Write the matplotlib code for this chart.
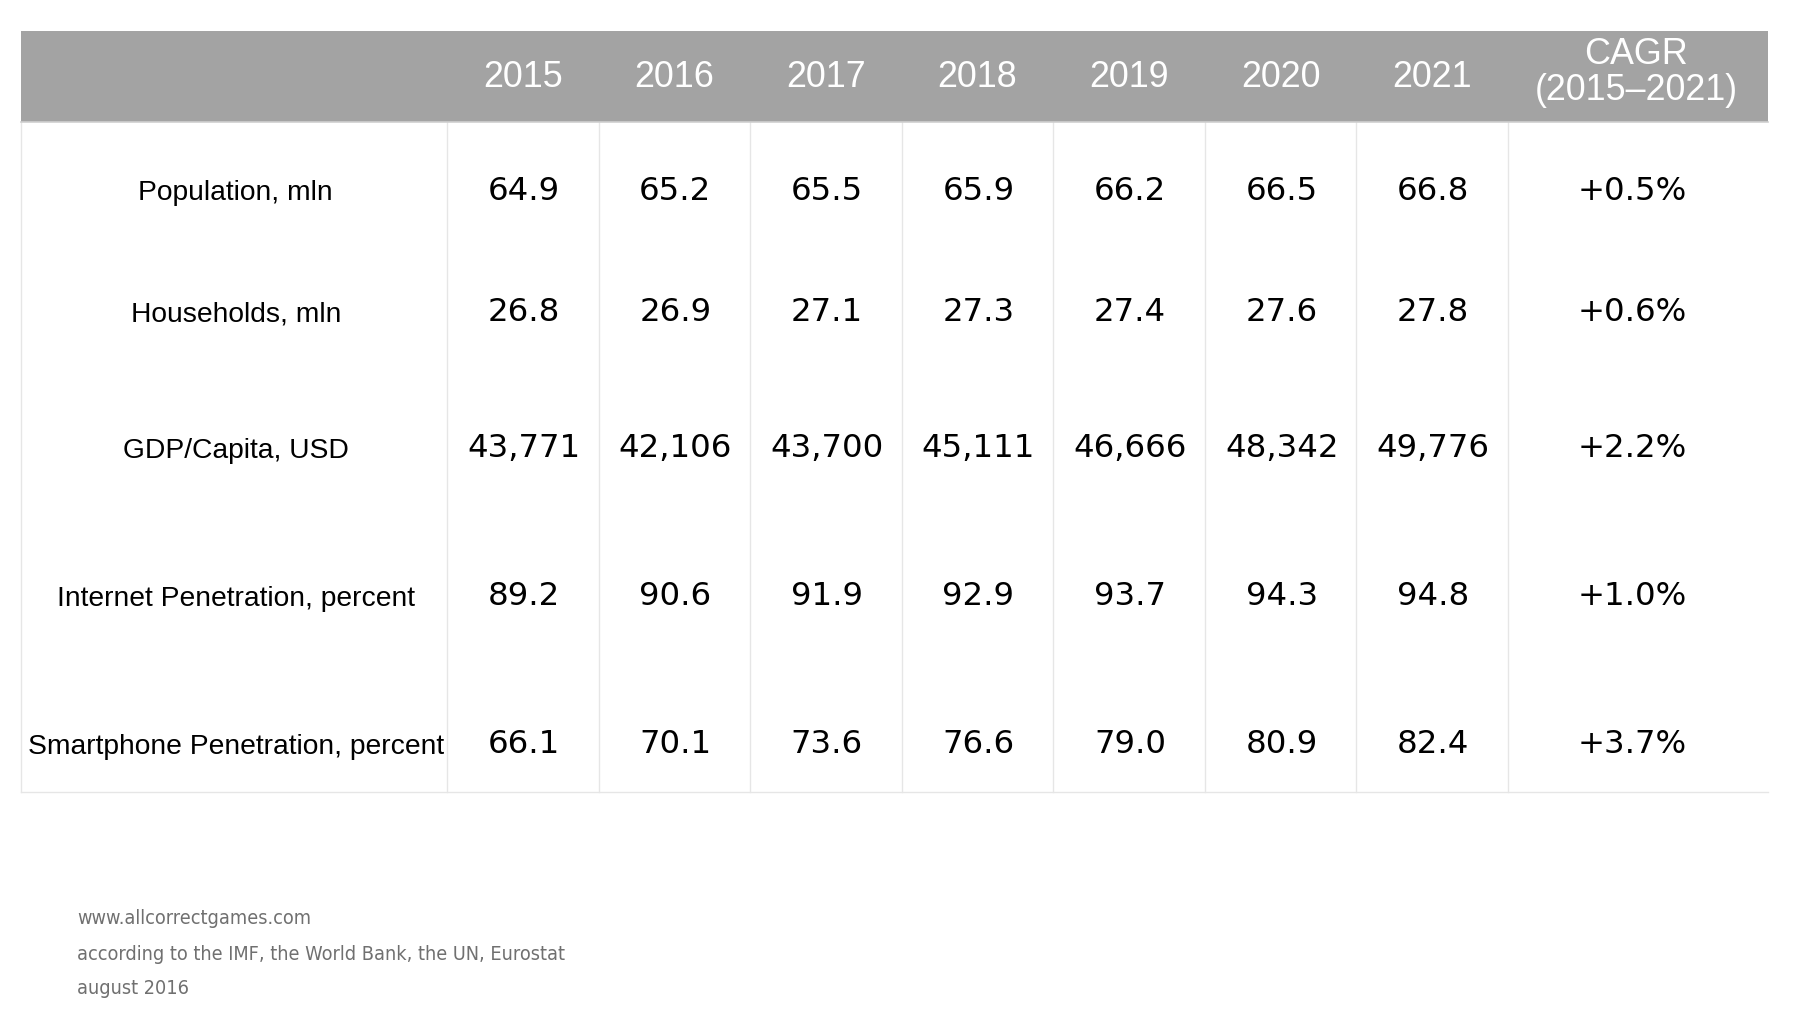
import matplotlib
matplotlib.use("Agg")
import matplotlib.pyplot as plt

# ---------------- data ----------------
years = ["2015", "2016", "2017", "2018", "2019", "2020", "2021"]
cagr_header = "CAGR\n(2015\u20132021)"
row_labels = ["Population, mln", "Households, mln", "GDP/Capita, USD",
              "Internet Penetration, percent", "Smartphone Penetration, percent"]
population = ["64.9", "65.2", "65.5", "65.9", "66.2", "66.5", "66.8"]
households = ["26.8", "26.9", "27.1", "27.3", "27.4", "27.6", "27.8"]
gdp_capita = ["43,771", "42,106", "43,700", "45,111", "46,666", "48,342", "49,776"]
internet = ["89.2", "90.6", "91.9", "92.9", "93.7", "94.3", "94.8"]
smartphone = ["66.1", "70.1", "73.6", "76.6", "79.0", "80.9", "82.4"]
cagr = ["+0.5%", "+0.6%", "+2.2%", "+1.0%", "+3.7%"]
footer_lines = ["www.allcorrectgames.com",
                "according to the IMF, the World Bank, the UN, Eurostat",
                "august 2016"]

rows = [population, households, gdp_capita, internet, smartphone]

# ---------------- layout (pixel space) ----------------
W, H = 1798, 1024
fig = plt.figure(figsize=(W / 100, H / 100), dpi=100)
ax = fig.add_axes([0, 0, 1, 1])
ax.set_xlim(0, W)
ax.set_ylim(H, 0)
ax.axis("off")

left, right = 20.5, 1768
head_top, head_bot = 31, 122
table_bot = 792
label_right = 447
year_w = (1508 - 447) / 7
col_edges = [left, label_right] + [label_right + year_w * (i + 1) for i in range(7)] + [right]
row_centers = [191.5, 312.5, 448.5, 596.5, 744.5]

header_bg = "#a3a3a3"
grid_c = "#e6e6e6"

ax.add_patch(plt.Rectangle((left, head_top), right - left, head_bot - head_top,
                           facecolor=header_bg, edgecolor="none", zorder=1))
ax.plot([left, right], [head_bot, head_bot], color="#cfcfcf", lw=1.2, zorder=2)

for x in col_edges[:-1]:
    ax.plot([x, x], [head_bot, table_bot], color=grid_c, lw=1.0, zorder=0)
ax.plot([left, right], [table_bot, table_bot], color=grid_c, lw=1.0, zorder=0)

centers = [(col_edges[i] + col_edges[i + 1]) / 2 for i in range(len(col_edges) - 1)]

hdr_font = dict(family=["Liberation Sans", "DejaVu Sans"], color="white", fontsize=25.8)
for i, y in enumerate(years):
    ax.text(centers[i + 1], 77.5, y, ha="center", va="center", **hdr_font)
ax.text(centers[-1] - 2, 72.5, cagr_header, ha="center", va="center", linespacing=1.02,
        **hdr_font)

val_font = dict(family=["DejaVu Sans"], color="black", fontsize=23.3)
lab_font = dict(family=["Liberation Sans", "DejaVu Sans"], color="black", fontsize=20.3)
for r, (lab, vals) in enumerate(zip(row_labels, rows)):
    yc = row_centers[r]
    ax.text(centers[0] + 2, yc + 2, lab, ha="center", va="center", **lab_font)
    for i, v in enumerate(vals):
        ax.text(centers[i + 1] + 1, yc, v, ha="center", va="center", **val_font)
    ax.text(centers[-1] - 6, yc, cagr[r], ha="center", va="center", **val_font)

foot_font = dict(family=["DejaVu Sans"], color="#707070", fontsize=14.2,
                 stretch="condensed")
for k, line in enumerate(footer_lines):
    ax.text(77, [918, 954, 989][k], line, ha="left", va="center", **foot_font)

fig.savefig("out.png", dpi=100, facecolor="white")
